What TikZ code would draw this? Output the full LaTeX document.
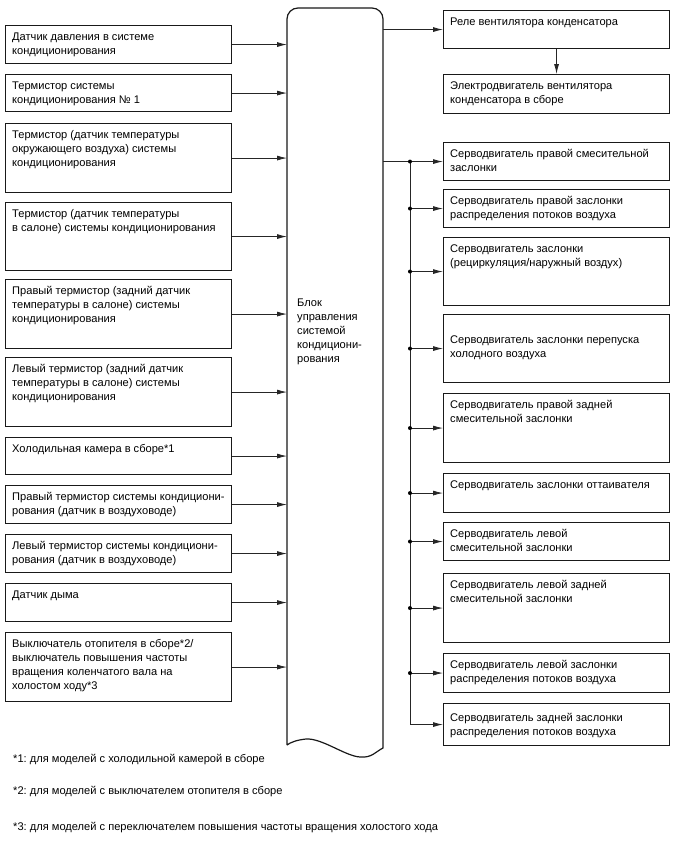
\documentclass[tikz,border=0pt]{standalone}
\usepackage{fontspec}
\setmainfont{Liberation Sans}
\usetikzlibrary{arrows.meta,calc}
\frenchspacing
\tikzset{
  box/.style={draw=black!90,line width=1.1pt,inner sep=0pt,rectangle},
  txt/.style={inner sep=0pt,align=left,font=\fontsize{11.1}{14}\selectfont},
  ln/.style={draw=black!85,line width=0.8pt},
  arr/.style={ln,-{Latex[length=10pt,width=5pt]}},
  dotc/.style={fill=black,circle,inner sep=0pt,minimum size=4pt},
  note/.style={inner sep=0pt,anchor=base west,font=\fontsize{11.1}{14}\selectfont}
}
\newcommand\bxx[6]{%
  \node[box,minimum width=#4pt,minimum height=#5pt,anchor=north west] (#1) at (#2,#3) {};
  \node[txt,anchor=north west] (#1t) at ($(#1.north west)+(7,6)$) {\rule{0pt}{9pt}#6};
}
\begin{document}
\frenchspacing
\begin{tikzpicture}[x=1pt,y=-1pt]
\useasboundingbox (0,0) rectangle (688,852);
% central block
\node[inner sep=0pt,minimum width=96pt,minimum height=740pt,anchor=north west] (cu) at (287,8) {};
\draw[line width=1.2pt,draw=black!90] (287,745) -- (287,19) arc[start angle=180,end angle=270,radius=11] -- (372,8)
  arc[start angle=270,end angle=360,radius=11] -- (383,748)
  .. controls (375,752) and (372,758) .. (360,757)
  .. controls (345,756) and (322,738) .. (306,739)
  .. controls (297,740) and (291,742) .. (287,745);
\node[txt,anchor=north west] (cut) at (297,297) {\rule{0pt}{9pt}Блок\\управления\\системой\\кондициони-\\рования};
% left boxes
\bxx{L1}{5}{25}{226}{38}{Датчик давления в системе\\кондиционирования}
\bxx{L2}{5}{74}{226}{37}{Термистор системы\\кондиционирования № 1}
\bxx{L3}{5}{123}{226}{69}{Термистор (датчик температуры\\окружающего воздуха) системы\\кондиционирования}
\bxx{L4}{5}{202}{226}{68}{Термистор (датчик температуры\\в салоне) системы кондиционирования}
\bxx{L5}{5}{279}{226}{69}{Правый термистор (задний датчик\\температуры в салоне) системы\\кондиционирования}
\bxx{L6}{5}{357}{226}{69}{Левый термистор (задний датчик\\температуры в салоне) системы\\кондиционирования}
\bxx{L7}{5}{437}{226}{37}{Холодильная камера в сборе*1}
\bxx{L8}{5}{485}{226}{38}{Правый термистор системы кондициони-\\рования (датчик в воздуховоде)}
\bxx{L9}{5}{534}{226}{38}{Левый термистор системы кондициони-\\рования (датчик в воздуховоде)}
\bxx{L10}{5}{583}{226}{38}{Датчик дыма}
\bxx{L11}{5}{632}{226}{69}{Выключатель отопителя в сборе*2/\\выключатель повышения частоты\\вращения коленчатого вала на\\холостом ходу*3}
\foreach \i in {1,...,11} {\draw[arr] (L\i.east) -- (L\i.east -| cu.west);}
% right boxes
\bxx{R1}{443}{10}{226}{38}{Реле вентилятора конденсатора}
\bxx{R2}{443}{74}{226}{39}{Электродвигатель вентилятора\\конденсатора в сборе}
\bxx{R3}{443}{142}{226}{38}{Серводвигатель правой смесительной\\заслонки}
\bxx{R4}{443}{189}{226}{38}{Серводвигатель правой заслонки\\распределения потоков воздуха}
\bxx{R5}{443}{237}{226}{68}{Серводвигатель заслонки\\(рециркуляция/наружный воздух)}
\node[box,minimum width=226pt,minimum height=68pt,anchor=north west] (R6) at (443,314) {};
\node[txt,anchor=north west] (R6t) at ($(R6.north west)+(7,20)$) {\rule{0pt}{9pt}Серводвигатель заслонки перепуска\\холодного воздуха};
\bxx{R7}{443}{393}{226}{69}{Серводвигатель правой задней\\смесительной заслонки}
\bxx{R8}{443}{473}{226}{39}{Серводвигатель заслонки оттаивателя}
\bxx{R9}{443}{522}{226}{38}{Серводвигатель левой\\смесительной заслонки}
\bxx{R10}{443}{573}{226}{69}{Серводвигатель левой задней\\смесительной заслонки}
\bxx{R11}{443}{653}{226}{39}{Серводвигатель левой заслонки\\распределения потоков воздуха}
\node[box,minimum width=226pt,minimum height=42pt,anchor=north west] (R12) at (443,703) {};
\node[txt,anchor=north west] (R12t) at ($(R12.north west)+(7,9)$) {\rule{0pt}{9pt}Серводвигатель задней заслонки\\распределения потоков воздуха};
\draw[arr] (cu.east |- R1.west) -- (R1.west);
\draw[arr] (R1.south) -- (R2.north);
\coordinate (bus) at (410,0);
\draw[ln] (cu.east |- R3.west) -- (bus |- R3.west);
\draw[ln] (bus |- R3.west) -- (bus |- R12.west);
\foreach \i in {3,...,12} {\draw[arr] (bus |- R\i.west) -- (R\i.west);}
\foreach \i in {3,...,11} {\node[dotc] (d\i) at (bus |- R\i.west) {};}
% notes
\node[note] (n1) at (13,762) {*1: для моделей с холодильной камерой в сборе};
\node[note] (n2) at (13,794) {*2: для моделей с выключателем отопителя в сборе};
\node[note] (n3) at (13,830) {*3: для моделей с переключателем повышения частоты вращения холостого хода};
\end{tikzpicture}
\end{document}
